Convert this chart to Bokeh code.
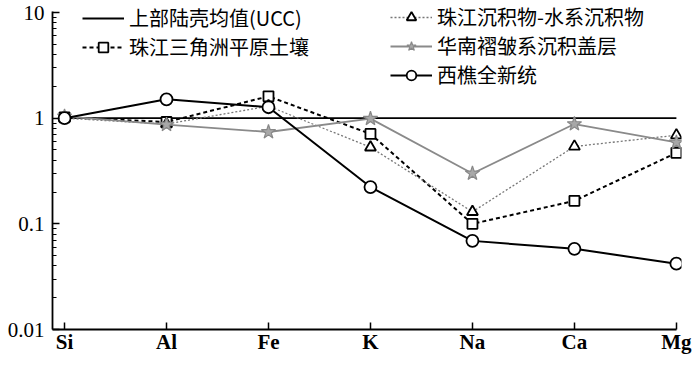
from bokeh.plotting import figure
from bokeh.models import (Range1d, FixedTicker, NumeralTickFormatter, Legend, LegendItem)
from bokeh.embed import file_html
from bokeh.resources import INLINE

elements = ["Si", "Al", "Fe", "K", "Na", "Ca", "Mg"]
ucc = [1, 1, 1, 1, 1, 1, 1]
delta_soil = [1.02, 0.92, 1.61, 0.71, 0.10, 0.165, 0.47]
pearl_sed = [1.0, 0.88, 1.30, 0.53, 0.13, 0.54, 0.69]
south_china = [1.04, 0.87, 0.74, 0.99, 0.30, 0.88, 0.59]
xiqiao = [1.0, 1.51, 1.27, 0.223, 0.069, 0.058, 0.042]

names = ["上部陆壳均值(UCC)", "珠江三角洲平原土壤", "珠江沉积物-水系沉积物",
         "华南褶皱系沉积盖层", "西樵全新统"]

x = list(range(len(elements)))

p = figure(width=692, height=357, y_axis_type="log",
           x_range=Range1d(-0.118, 6.05), y_range=Range1d(0.01, 13),
           output_backend="svg", toolbar_location=None,
           min_border_left=52, min_border_right=11, min_border_top=0, min_border_bottom=28)
p.outline_line_color = None
p.xgrid.visible = False
p.ygrid.visible = False
p.background_fill_color = "white"

r_ucc = p.line(x, ucc, line_color="black", line_width=1.8)

r_soil_l = p.line(x, delta_soil, line_color="black", line_width=2, line_dash="4 3")
r_soil_m = p.scatter(x, delta_soil, marker="square", size=10, fill_color="white",
                     line_color="black", line_width=1.8)

r_sed_l = p.line(x, pearl_sed, line_color="#777777", line_width=1.3, line_dash="2 2")
r_sed_m = p.scatter(x, pearl_sed, marker="triangle", size=11, fill_color="white",
                    line_color="black", line_width=1.8)

r_sc_l = p.line(x, south_china, line_color="#8a8a8a", line_width=1.8)
r_sc_m = p.scatter(x, south_china, marker="star", size=15, fill_color="#a8a8a8",
                   line_color="#888888", line_width=1.2)

r_xq_l = p.line(x, xiqiao, line_color="black", line_width=2)
r_xq_m = p.scatter(x, xiqiao, marker="circle", size=12, fill_color="white",
                   line_color="black", line_width=1.8)

# axes
xa = p.xaxis[0]
xa.ticker = FixedTicker(ticks=x)
xa.major_label_overrides = {i: e for i, e in enumerate(elements)}
xa.bounds = (-0.118, 6)
xa.major_tick_in = 7
xa.major_tick_out = 0
xa.minor_tick_line_color = None
xa.axis_line_width = 1.8
xa.major_tick_line_width = 1.5
xa.major_label_text_font = "Liberation Serif"
xa.major_label_text_font_style = "bold"
xa.major_label_text_font_size = "21px"
xa.major_label_text_color = "black"
xa.major_label_standoff = 0

ya = p.yaxis[0]
minor = [m * 10.0 ** e for e in (-2, -1, 0) for m in range(2, 10)]
ya.ticker = FixedTicker(ticks=[0.01, 0.1, 1, 10], minor_ticks=minor)
ya.formatter = NumeralTickFormatter(format="0.[00]")
ya.bounds = (0.01, 10.3)
ya.major_tick_in = 7
ya.major_tick_out = 0
ya.minor_tick_in = 4
ya.minor_tick_out = 0
ya.axis_line_width = 1.8
ya.major_tick_line_width = 1.5
ya.minor_tick_line_width = 1.2
ya.major_label_text_font = "Liberation Serif"
ya.major_label_text_font_size = "21px"
ya.major_label_text_color = "black"
ya.major_label_standoff = 8

font = "Noto Sans CJK SC"
common = dict(border_line_color=None, background_fill_alpha=0, padding=0, margin=0,
              glyph_width=42, glyph_height=24, label_height=24, spacing=0,
              label_standoff=5, label_text_font=font, label_text_font_size="20px",
              label_text_color="black", orientation="vertical")

entries = [
    (names[0], [r_ucc], (30, 297)),
    (names[1], [r_soil_l, r_soil_m], (30, 268)),
    (names[2], [r_sed_l, r_sed_m], (338, 298)),
    (names[3], [r_sc_l, r_sc_m], (338, 269)),
    (names[4], [r_xq_l, r_xq_m], (338, 240)),
]
for label, rends, loc in entries:
    p.add_layout(Legend(items=[LegendItem(label=label, renderers=rends)],
                        location=loc, **common))

open("out.html", "w").write(file_html(p, INLINE))
